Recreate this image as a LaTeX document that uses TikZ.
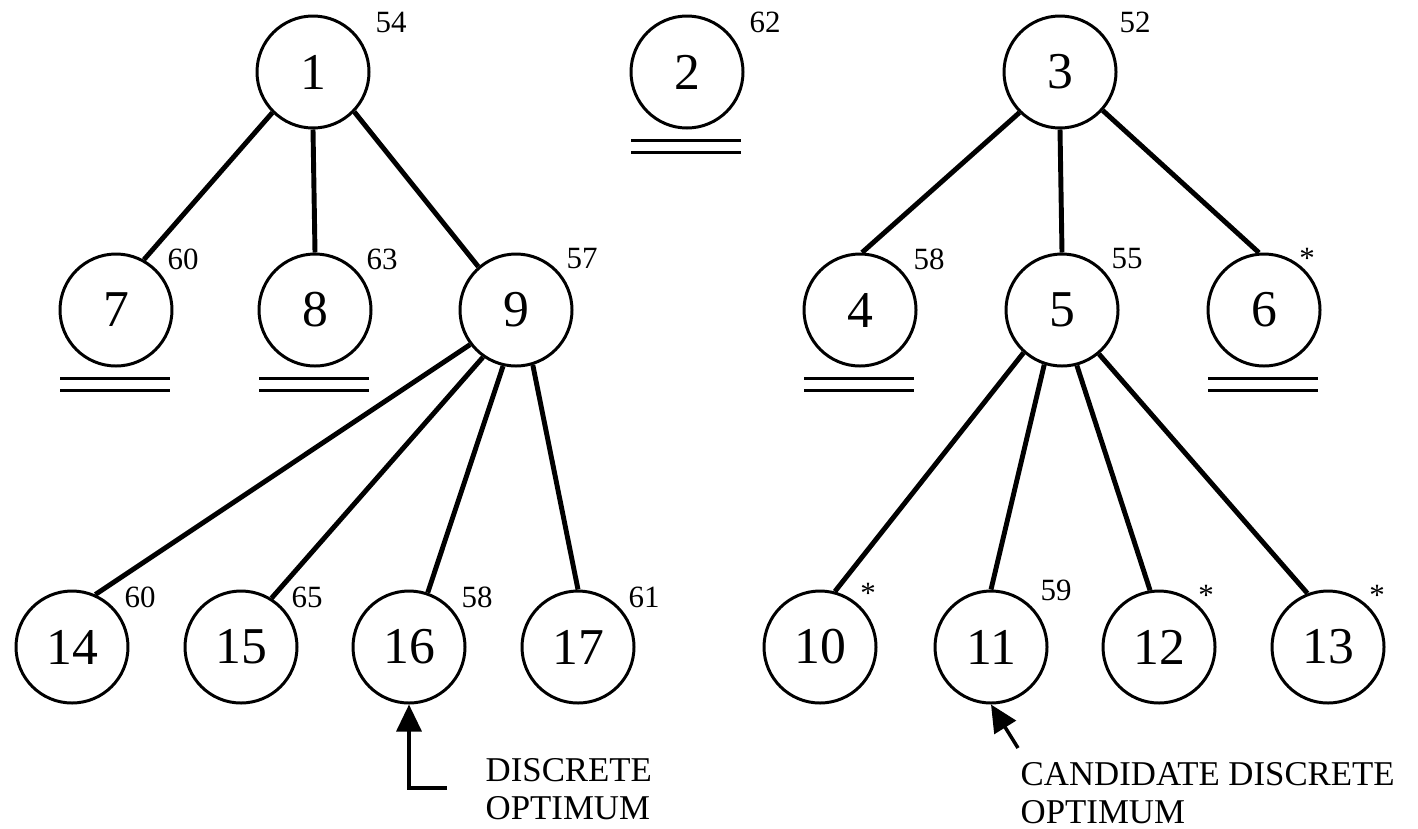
\documentclass[tikz,border=0pt]{standalone}
\usepackage{fontspec}
\setmainfont{Liberation Serif}
\usetikzlibrary{positioning,calc,arrows.meta}

\begin{document}
\begin{tikzpicture}[
    state/.style={draw, circle, line width=0.85pt, minimum size=1.12cm, inner sep=0pt, font=\fontsize{14.7}{16}\selectfont},
    cost/.style={inner sep=0pt, font=\fontsize{8.8}{10}\selectfont},
    star/.style={cost, anchor=north},
    edge/.style={line width=1.4pt},
    bar/.style={line width=0.95pt},
    pointer/.style={line width=1pt, -{Triangle[length=2.7mm, width=2.5mm]}},
    note/.style={inner sep=0pt, align=left, anchor=north west, font=\fontsize{9.9}{10.8}\selectfont}
]
    \useasboundingbox (0,0) rectangle (14.18,-8.28);

    % top level
    \node [state] (n1) at (3.13,-0.72) {1};
    \node [state] (n2) at (6.87,-0.72) {2};
    \node [state] (n3) at (10.60,-0.72) {3};

    % second level
    \node [state] (n7) at (1.16,-3.10) {7};
    \node [state] (n8) at (3.15,-3.10) {8};
    \node [state] (n9) at (5.16,-3.10) {9};
    \node [state] (n4) at (8.60,-3.10) {4};
    \node [state] (n5) at (10.62,-3.10) {5};
    \node [state] (n6) at (12.64,-3.10) {6};

    % third level
    \node [state] (n14) at (0.72,-6.47) {14};
    \node [state] (n15) at (2.41,-6.47) {15};
    \node [state] (n16) at (4.09,-6.47) {16};
    \node [state] (n17) at (5.78,-6.47) {17};
    \node [state] (n10) at (8.20,-6.47) {10};
    \node [state] (n11) at (9.91,-6.47) {11};
    \node [state] (n12) at (11.59,-6.47) {12};
    \node [state] (n13) at (13.28,-6.47) {13};

    \draw [edge] (n1.225) -- (n7.61);
    \draw [edge] (n1.south) -- (n8.north);
    \draw [edge] (n1.316) -- (n9.131);
    \draw [edge] (n3.225) -- (n4.88);
    \draw [edge] (n3.south) -- (n5.north);
    \draw [edge] (n3.318) -- (n6.95);
    \draw [edge] (n9.217) -- (n14.66);
    \draw [edge] (n9.235) -- (n15.58);
    \draw [edge] (n9.257) -- (n16.71);
    \draw [edge] (n9.287) -- (n17.90);
    \draw [edge] (n5.228) -- (n10.75);
    \draw [edge] (n5.252) -- (n11.90);
    \draw [edge] (n5.285) -- (n12.99);
    \draw [edge] (n5.310) -- (n13.111);

    % bounds
    \node [cost] (c1) at (3.91,-0.22) {54};
    \node [cost] (c2) at (7.65,-0.22) {62};
    \node [cost] (c3) at (11.35,-0.22) {52};
    \node [cost] (c7) at (1.83,-2.59) {60};
    \node [cost] (c8) at (3.82,-2.59) {63};
    \node [cost] (c9) at (5.82,-2.59) {57};
    \node [cost] (c4) at (9.29,-2.59) {58};
    \node [cost] (c5) at (11.27,-2.59) {55};
    \node [star] (c6) at (13.07,-2.48) {*};
    \node [cost] (c14) at (1.40,-5.97) {60};
    \node [cost] (c15) at (3.07,-5.97) {65};
    \node [cost] (c16) at (4.77,-5.97) {58};
    \node [cost] (c17) at (6.44,-5.97) {61};
    \node [star] (c10) at (8.68,-5.83) {*};
    \node [cost] (c11) at (10.56,-5.90) {59};
    \node [star] (c12) at (12.06,-5.85) {*};
    \node [star] (c13) at (13.77,-5.85) {*};

    % fathomed nodes
    \foreach \n in {n2,n7,n8,n4,n6} {
        \draw [bar] ($(\n.south)+(-0.56,-0.11)$) -- ++(1.10,0);
        \draw [bar] ($(\n.south)+(-0.56,-0.23)$) -- ++(1.10,0);
    }

    % pointers
    \coordinate (k16) at (4.47,-7.88);
    \draw [pointer] (k16) -| (n16.south);
    \node [note] (t16) at (4.85,-7.58) {DISCRETE\\OPTIMUM};

    \coordinate (k11) at (10.18,-7.48);
    \draw [pointer] (k11) -- (n11.south);
    \node [note] (t11) at (10.20,-7.62) {CANDIDATE DISCRETE\\OPTIMUM};
\end{tikzpicture}
\end{document}
